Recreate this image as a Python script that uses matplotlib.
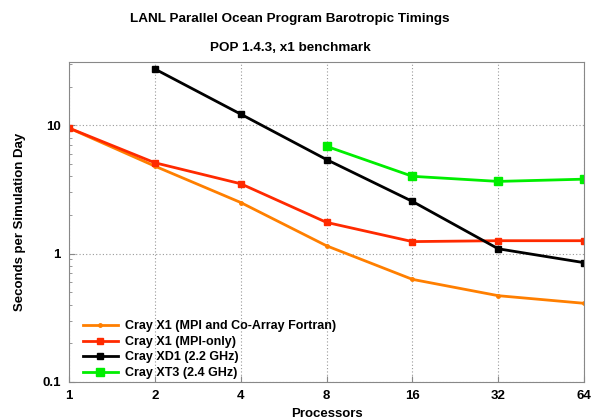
import matplotlib
matplotlib.use("Agg")
import matplotlib.pyplot as plt
from matplotlib.ticker import FixedLocator, FixedFormatter, LogLocator, NullFormatter

plt.rcParams['font.family'] = ['Liberation Sans', 'DejaVu Sans']

procs = [1, 2, 4, 8, 16, 32, 64]
x1_caf = [9.5, 4.8, 2.5, 1.15, 0.63, 0.47, 0.41]
x1_mpi = [9.5, 5.1, 3.5, 1.75, 1.24, 1.26, 1.26]
xd1_procs = [2, 4, 8, 16, 32, 64]
xd1 = [27.4, 12.2, 5.4, 2.55, 1.09, 0.85]
xt3_procs = [8, 16, 32, 64]
xt3 = [6.85, 4.0, 3.65, 3.8]
xtick_labels = ["1", "2", "4", "8", "16", "32", "64"]

fig = plt.figure(figsize=(5.92, 4.17), dpi=100)
ax = fig.add_axes([0.1166, 0.084, 0.87, 0.767])

ax.plot(procs, x1_caf, color="#ff7f00", lw=2, marker="o", ms=2.5,
        label="Cray X1 (MPI and Co-Array Fortran)")
ax.plot(procs, x1_mpi, color="#ff2a00", lw=2, marker="s", ms=4,
        label="Cray X1 (MPI-only)")
ax.plot(xd1_procs, xd1, color="black", lw=2, marker="s", ms=4,
        label="Cray XD1 (2.2 GHz)")
ax.plot(xt3_procs, xt3, color="#00ee00", lw=2, marker="s", ms=5.5,
        label="Cray XT3 (2.4 GHz)")

ax.set_xscale("log")
ax.set_yscale("log")
ax.set_xlim(1, 64)
ax.set_ylim(0.1, 31)

ax.xaxis.set_major_locator(FixedLocator(procs))
ax.xaxis.set_major_formatter(FixedFormatter(xtick_labels))
ax.xaxis.set_minor_locator(FixedLocator([]))
ax.yaxis.set_major_locator(FixedLocator([0.1, 1, 10]))
ax.yaxis.set_major_formatter(FixedFormatter(["0.1", "1", "10"]))
ax.yaxis.set_minor_locator(LogLocator(base=10, subs=range(2, 10)))
ax.yaxis.set_minor_formatter(NullFormatter())

ax.tick_params(axis="both", which="major", direction="in", length=4,
               color="#888888", labelsize=9.5, pad=6)
ax.tick_params(axis="y", which="minor", direction="in", length=2, color="#888888")
for lbl in ax.get_xticklabels() + ax.get_yticklabels():
    lbl.set_fontweight("bold")

ax.grid(True, which="major", linestyle=(0, (1, 2)), color="#999999", lw=0.8)
for s in ax.spines.values():
    s.set_color("#888888")

ax.set_ylabel("Seconds per Simulation Day", fontsize=9.5, fontweight="bold", labelpad=12)
ax.set_xlabel("Processors", fontsize=9.5, fontweight="bold", labelpad=4)

fig.text(0.49, 0.955, "LANL Parallel Ocean Program Barotropic Timings",
         ha="center", va="center", fontsize=9.7, fontweight="bold")
fig.text(0.49, 0.885, "POP 1.4.3, x1 benchmark",
         ha="center", va="center", fontsize=9.7, fontweight="bold")

leg = ax.legend(loc="lower left", frameon=False, fontsize=9, handlelength=2.8,
                handletextpad=0.55, labelspacing=0.28, borderaxespad=0.3,
                bbox_to_anchor=(0.01, -0.018))
for t in leg.get_texts():
    t.set_fontweight("bold")

fig.savefig("out.png", dpi=100)
